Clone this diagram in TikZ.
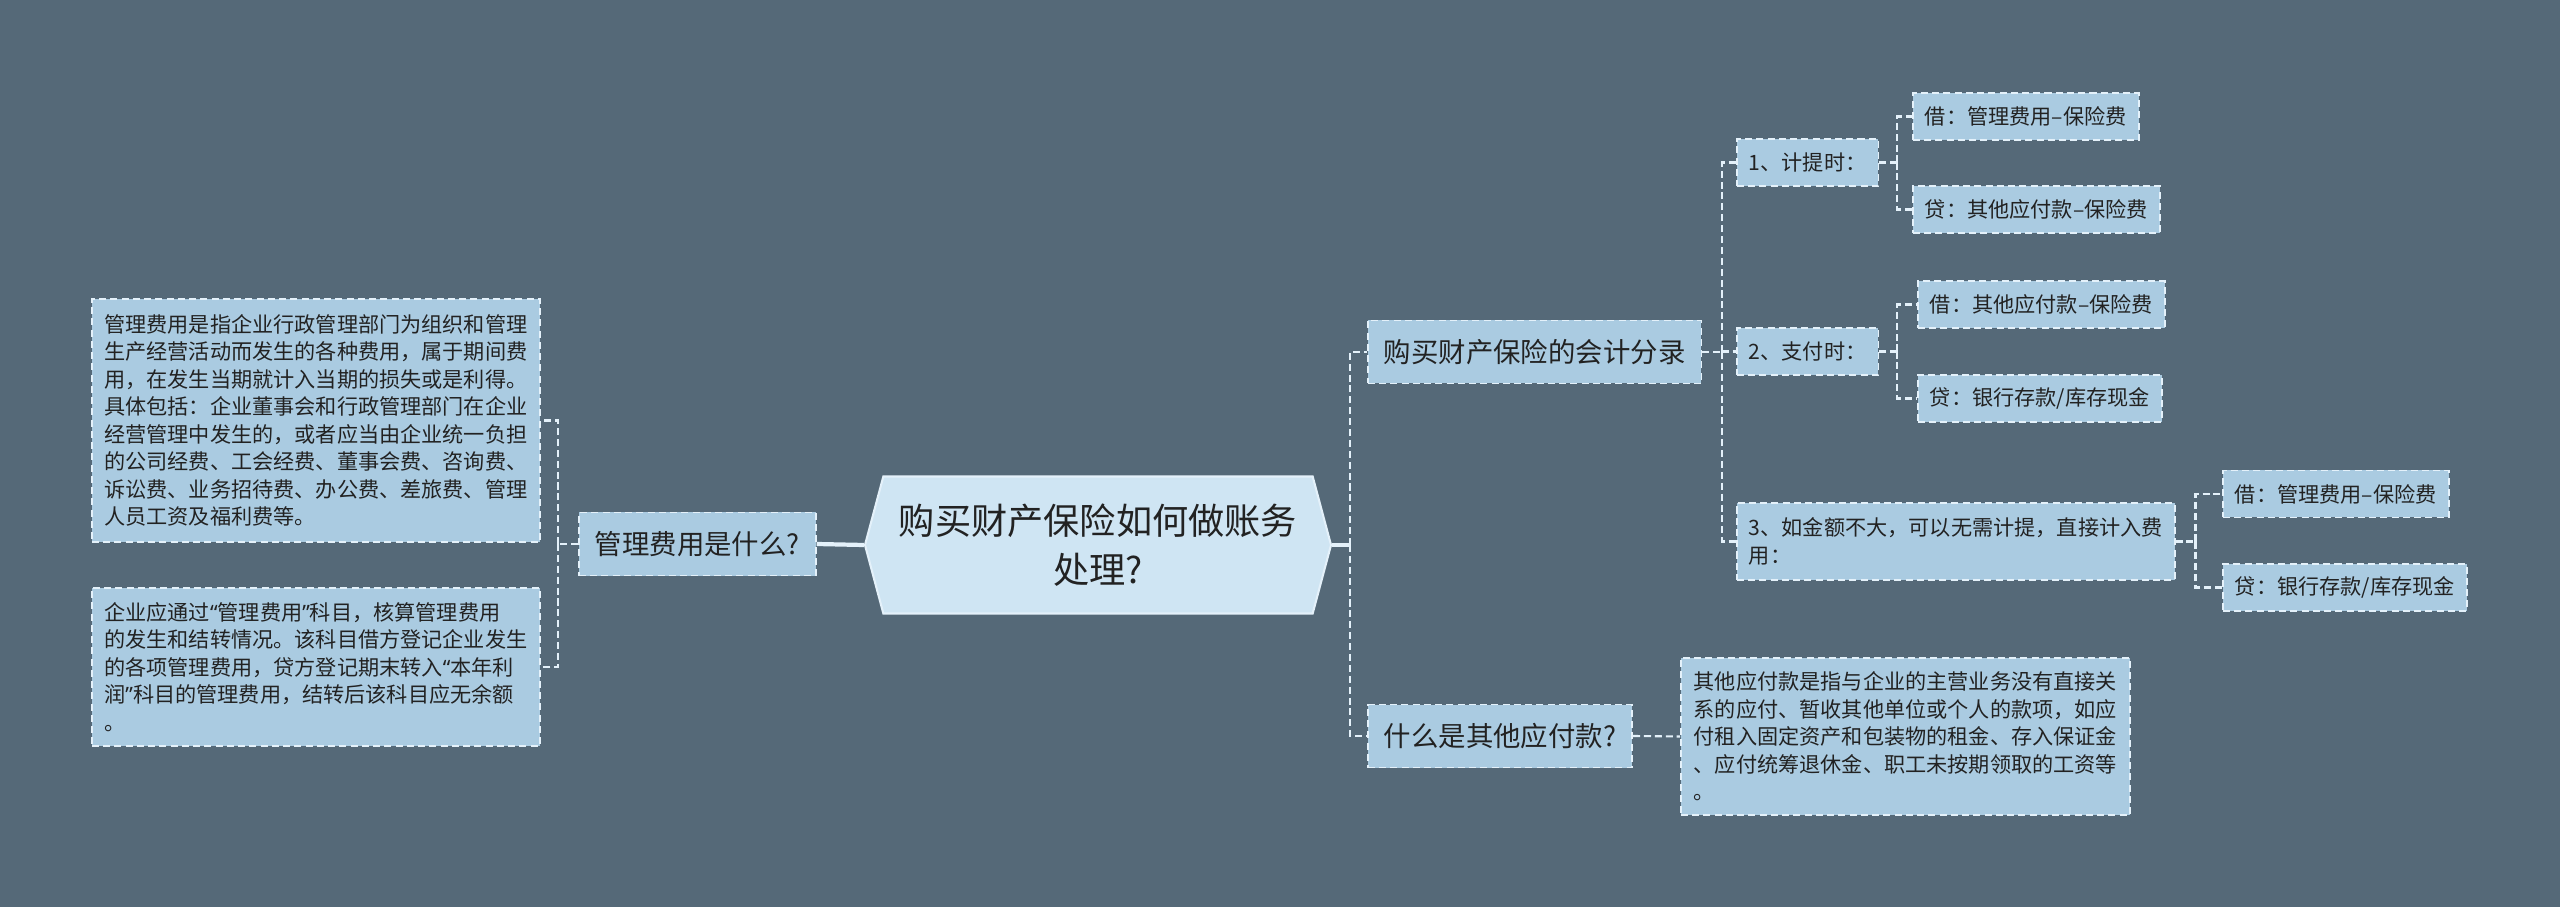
\documentclass[tikz,border=0pt]{standalone}
\usepackage{fontspec}
\setmainfont{Noto Sans CJK SC}
\newfontfamily\virgolette{Noto Sans}
\newcommand{\apri}{{\virgolette “}}
\newcommand{\chiudi}{{\virgolette ”}}
\usetikzlibrary{shapes.symbols}
\definecolor{sfondo}{RGB}{85,105,120}
\definecolor{nodo}{RGB}{170,203,225}
\definecolor{radice}{RGB}{207,229,243}
\definecolor{bordo}{RGB}{228,241,250}
\definecolor{testo}{RGB}{34,34,34}

\begin{document}
\begin{tikzpicture}[thick,
    main/.style = {draw=bordo, fill=nodo, dash pattern=on 2pt off 1.2pt, line width=0.5pt, text=testo, inner xsep=0.12cm, inner ysep=0pt, anchor=west},
    big/.style = {main, font=\fontsize{7.8}{10}\selectfont, minimum height=0.63cm, inner xsep=0.16cm},
    small/.style = {main, font=\fontsize{6.02}{7.82}\selectfont, minimum height=0.47cm, align=left},
    root/.style = {shape=signal, signal to=west and east, signal pointer angle=150, draw=bordo, fill=radice, line width=0.6pt, text=testo, minimum width=4.66cm, minimum height=1.37cm, inner sep=0pt, align=center, font=\fontsize{10.3}{13.9}\selectfont},
    link/.style = {draw=bordo, line width=0.6pt, dash pattern=on 2pt off 1.1pt},
    trunk/.style = {draw=bordo, line width=1.2pt}]
    \fill[sfondo] (0,0) rectangle (25.6,-9.07);
    \useasboundingbox (0,0) rectangle (25.6,-9.07);

    % Disegna i nodi della mappa
    \node[root] (0) at (10.98,-5.45) {购买财产保险如何做账务\\处理?};

    \node[big] (1) at (5.78,-5.44) {管理费用是什么?};
    \node[small, minimum height=2.43cm, minimum width=4.48cm] (2) at (0.91,-4.205) {管理费用是指企业行政管理部门为组织和管理\\生产经营活动而发生的各种费用，属于期间费\\用，在发生当期就计入当期的损失或是利得。\\具体包括：企业董事会和行政管理部门在企业\\经营管理中发生的，或者应当由企业统一负担\\的公司经费、工会经费、董事会费、咨询费、\\诉讼费、业务招待费、办公费、差旅费、管理\\人员工资及福利费等。};
    \node[small, minimum height=1.58cm, minimum width=4.48cm] (3) at (0.91,-6.67) {企业应通过\apri 管理费用\chiudi 科目，核算管理费用\\的发生和结转情况。该科目借方登记企业发生\\的各项管理费用，贷方登记期末转入\apri 本年利\\润\chiudi 科目的管理费用，结转后该科目应无余额\\。};

    \node[big] (4) at (13.67,-3.52) {购买财产保险的会计分录};
    \node[big] (5) at (13.67,-7.36) {什么是其他应付款?};
    \node[small, minimum height=1.57cm, minimum width=4.49cm] (6) at (16.80,-7.365) {其他应付款是指与企业的主营业务没有直接关\\系的应付、暂收其他单位或个人的款项，如应\\付租入固定资产和包装物的租金、存入保证金\\、应付统筹退休金、职工未按期领取的工资等\\。};

    \node[small] (7) at (17.36,-1.625) {1、计提时：};
    \node[small] (8) at (17.36,-3.515) {2、支付时：};
    \node[small, minimum height=0.77cm] (9) at (17.36,-5.415) {3、如金额不大，可以无需计提，直接计入费\\用：};

    \node[small] (10) at (19.12,-1.165) {借：管理费用–保险费};
    \node[small] (11) at (19.12,-2.095) {贷：其他应付款–保险费};
    \node[small] (12) at (19.17,-3.045) {借：其他应付款–保险费};
    \node[small] (13) at (19.17,-3.985) {贷：银行存款/库存现金};
    \node[small] (14) at (22.22,-4.94) {借：管理费用–保险费};
    \node[small] (15) at (22.22,-5.875) {贷：银行存款/库存现金};

    % Disegna i collegamenti
    \draw[trunk] (0.west) -- (1.east);
    \draw[trunk] (0.east) -- ++(0.18,0) coordinate (t0);
    \draw[link] (t0) |- (4.west);
    \draw[link] (t0) |- (5.west);

    \draw[link] (1.west) -- ++(-0.2,0) coordinate (t1);
    \draw[link] (t1) |- (2.east);
    \draw[link] (t1) |- (3.east);

    \draw[link] (4.east) -- ++(0.2,0) coordinate (t4);
    \draw[link] (t4) |- (7.west);
    \draw[link] (t4) |- (8.west);
    \draw[link] (t4) |- (9.west);

    \draw[link] (5.east) -- (6.west);

    \draw[link] (7.east) -- ++(0.18,0) coordinate (t7);
    \draw[link] (t7) |- (10.west);
    \draw[link] (t7) |- (11.west);
    \draw[link] (8.east) -- ++(0.18,0) coordinate (t8);
    \draw[link] (t8) |- (12.west);
    \draw[link] (t8) |- (13.west);
    \draw[link] (9.east) -- ++(0.2,0) coordinate (t9);
    \draw[link] (t9) |- (14.west);
    \draw[link] (t9) |- (15.west);
\end{tikzpicture}
\end{document}
